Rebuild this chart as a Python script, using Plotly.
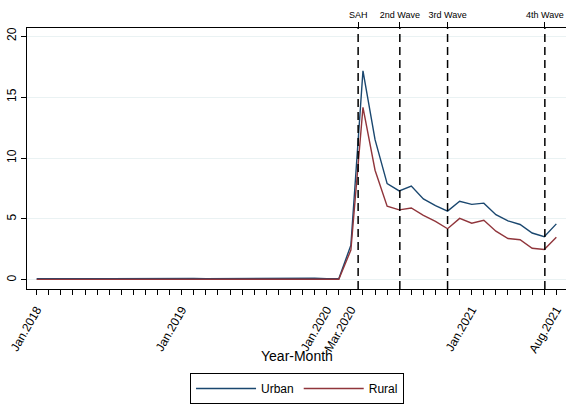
import plotly.graph_objects as go

# Month index 0 = Jan.2018 ... 43 = Aug.2021
months = list(range(44))
urban = [0.10, 0.11, 0.10, 0.10, 0.09, 0.10, 0.10, 0.11, 0.12, 0.12, 0.11, 0.12,
         0.12, 0.12, 0.11, 0.12, 0.13, 0.12, 0.11, 0.13, 0.12, 0.12, 0.13, 0.14,
         0.10, 0.10, 2.85, 17.15, 11.5, 7.9, 7.3, 7.7, 6.65, 6.1, 5.65, 6.45,
         6.2, 6.3, 5.35, 4.85, 4.55, 3.85, 3.55, 4.6]
rural = [0.05, 0.05, 0.05, 0.06, 0.05, 0.05, 0.05, 0.05, 0.06, 0.06, 0.05, 0.06,
         0.06, 0.06, 0.06, 0.06, 0.06, 0.06, 0.06, 0.06, 0.06, 0.06, 0.07, 0.06,
         0.06, 0.06, 2.45, 14.15, 9.0, 6.05, 5.75, 5.9, 5.3, 4.8, 4.2, 5.05,
         4.65, 4.9, 4.0, 3.4, 3.3, 2.6, 2.5, 3.5]
tick_months = [0, 12, 24, 26, 36, 43]
tick_labels = ["Jan.2018", "Jan.2019", "Jan.2020", "Mar.2020", "Jan.2021", "Aug.2021"]
event_months = [26.6, 30.05, 34.0, 42.05]
event_labels = ["SAH", "2nd Wave", "3rd Wave", "4th Wave"]
y_ticks = [0, 5, 10, 15, 20]

FONT = "Liberation Sans, Arial, Helvetica, sans-serif"
XR = [-0.8, 43.8]

fig = go.Figure()
fig.add_trace(go.Scatter(x=months, y=urban, mode="lines", name="Urban",
                         line=dict(color="#1a476f", width=1.4)))
fig.add_trace(go.Scatter(x=months, y=rural, mode="lines", name="Rural",
                         line=dict(color="#90353b", width=1.4)))
fig.add_trace(go.Scatter(x=event_months, y=[None] * len(event_months), xaxis="x2",
                         mode="lines", showlegend=False, hoverinfo="skip"))

for em in event_months:
    fig.add_shape(type="line", xref="x", yref="paper", x0=em, x1=em, y0=0, y1=1,
                  line=dict(color="black", width=1.5, dash="8px,5px"))

fig.update_layout(
    width=572, height=404,
    margin=dict(l=27, r=6, t=28, b=115, autoexpand=False),
    paper_bgcolor="white", plot_bgcolor="white",
    font=dict(family=FONT, color="black", size=11),
    xaxis=dict(range=XR, tickmode="array", tickvals=tick_months, ticktext=tick_labels,
               tickangle=-60, ticks="outside", ticklen=5, tickcolor="black",
               minor=dict(dtick=1, tick0=0, ticks="outside", ticklen=5, tickcolor="black"),
               showline=True, linecolor="black", linewidth=1, showgrid=False,
               zeroline=False, tickfont=dict(size=12), automargin=False,
               ticklabelstandoff=3),
    xaxis2=dict(range=XR, overlaying="x", side="top", tickmode="array",
                tickvals=event_months, ticktext=event_labels, ticks="outside",
                ticklen=5, tickcolor="black", showline=True, linecolor="black",
                linewidth=1, showgrid=False, zeroline=False, tickangle=0,
                tickfont=dict(size=9), automargin=False),
    yaxis=dict(range=[-0.74, 20.66], tickmode="array", tickvals=y_ticks,
               tickangle=-90, ticks="outside", ticklen=5, tickcolor="black",
               showline=True, linecolor="black", linewidth=1, showgrid=True,
               gridcolor="#eaf2f3", gridwidth=1, zeroline=False,
               tickfont=dict(size=12), automargin=False),
    legend=dict(orientation="h", x=0.501, xanchor="center", y=-0.322, yanchor="top",
                bordercolor="black", borderwidth=1, font=dict(size=12),
                itemwidth=60, traceorder="normal"),
    showlegend=True,
)
fig.add_annotation(text="Year-Month", xref="paper", yref="paper", x=0.501, y=-0.257,
                   xanchor="center", yanchor="middle", showarrow=False,
                   font=dict(size=14, family=FONT))

post = ("var s='margin:0;padding:0;overflow:hidden;width:572px;height:404px;';"
        "document.documentElement.style.cssText=s;document.body.style.cssText=s;")
fig.write_html("out.html", post_script=post, config={"displayModeBar": False})
